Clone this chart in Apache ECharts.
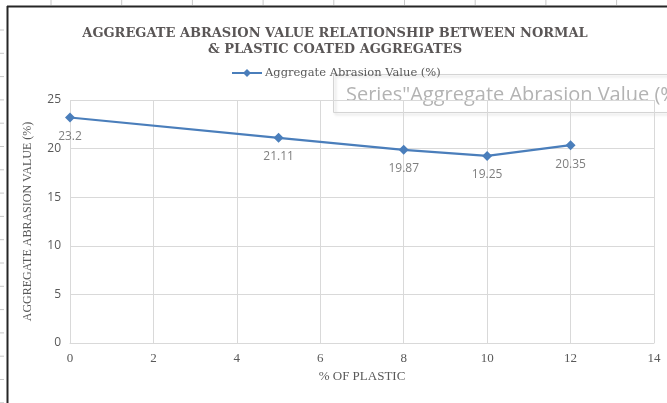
<!DOCTYPE html>
<html>
<head>
<meta charset="utf-8">
<script src="https://cdn.jsdelivr.net/npm/echarts@6/dist/echarts.min.js"></script>
<style>
  html, body { margin: 0; padding: 0; background: #fff; }
  #chart { width: 667px; height: 403px; }
</style>
</head>
<body>
<div id="chart"></div>
<script>
// data
const plasticPct = [0, 5, 8, 10, 12]
const abrasionValue = [23.2, 21.11, 19.87, 19.25, 20.35]
const xTicks = [0, 2, 4, 6, 8, 10, 12, 14]
const yTicks = [0, 5, 10, 15, 20, 25]

const seriesName = 'Aggregate Abrasion Value (%)'
const serif = '"Liberation Serif", "DejaVu Serif", serif'
const wideSerif = '"DejaVu Serif", serif'
const sans = '"Open Sans", "Noto Sans", sans-serif'

const chart = echarts.init(document.getElementById('chart'))

// spreadsheet cell ticks around the frame (decoration only)
const sheetTicks = []
for (let x = 51; x < 667; x += 70.7) {
  sheetTicks.push({ type: 'line', shape: { x1: x, y1: 0, x2: x, y2: 5 }, style: { stroke: '#c8c8c8', lineWidth: 1 } })
}
for (let y = 30; y < 403; y += 23.3) {
  sheetTicks.push({ type: 'line', shape: { x1: 0, y1: y, x2: 4, y2: y }, style: { stroke: '#c8c8c8', lineWidth: 1 } })
}

const option = {
  animation: false,
  title: {
    text: 'AGGREGATE ABRASION VALUE RELATIONSHIP BETWEEN NORMAL\n& PLASTIC COATED AGGREGATES',
    left: 330,
    textAlign: 'center',
    top: 21,
    textStyle: {
      fontFamily: wideSerif,
      fontWeight: 'bold',
      fontSize: 13,
      color: '#5a5656',
      lineHeight: 16
    }
  },
  legend: {
    top: 62,
    left: 226,
    itemWidth: 30,
    itemHeight: 10,
    itemGap: 4,
    textStyle: { fontFamily: wideSerif, fontSize: 11.5, color: '#595959', padding: [0, 0, 0, -2] },
    data: [seriesName]
  },
  grid: { left: 70, right: 13, top: 100, bottom: 60 },
  xAxis: {
    type: 'value',
    min: 0,
    max: 14,
    interval: 2,
    name: '% OF PLASTIC',
    nameLocation: 'middle',
    nameGap: 25,
    nameTextStyle: { fontFamily: serif, fontSize: 13, color: '#595959' },
    axisLine: { show: true, lineStyle: { color: '#d9d9d9' } },
    axisTick: { show: false },
    axisLabel: {
      fontFamily: serif, fontSize: 13, color: '#595959', margin: 9,
      formatter: v => xTicks.includes(v) ? String(v) : ''
    },
    splitLine: { show: true, lineStyle: { color: '#d9d9d9', width: 1 } }
  },
  yAxis: {
    type: 'value',
    min: 0,
    max: 25,
    interval: 5,
    name: 'AGGREGATE ABRASION VALUE (%)',
    nameLocation: 'middle',
    nameGap: 36,
    nameTextStyle: { fontFamily: serif, fontSize: 12, color: '#595959' },
    axisLine: { show: false },
    axisTick: { show: false },
    axisLabel: {
      fontFamily: sans, fontSize: 12, color: '#595959', margin: 9,
      formatter: v => yTicks.includes(v) ? String(v) : ''
    },
    splitLine: { show: true, lineStyle: { color: '#d9d9d9', width: 1 } }
  },
  series: [
    {
      name: seriesName,
      type: 'line',
      data: plasticPct.map((x, i) => [x, abrasionValue[i]]),
      symbol: 'diamond',
      symbolSize: 10,
      color: '#4a7ebb',
      lineStyle: { color: '#4a7ebb', width: 2.2 },
      itemStyle: { color: '#4a7ebb' },
      label: {
        show: true,
        position: 'bottom',
        distance: 8,
        fontFamily: sans,
        fontSize: 12,
        color: '#7f7f7f',
        formatter: p => String(p.value[1])
      },
      z: 3
    }
  ],
  graphic: [
    ...sheetTicks,
    // chart frame
    { type: 'line', shape: { x1: 7.5, y1: 6, x2: 7.5, y2: 403 }, style: { stroke: '#262626', lineWidth: 2 }, z: 10 },
    { type: 'line', shape: { x1: 7, y1: 6.5, x2: 667, y2: 6.5 }, style: { stroke: '#262626', lineWidth: 2 }, z: 10 },
    // hover hint box from the spreadsheet screenshot (see-through)
    {
      type: 'group',
      z: 20,
      children: [
        {
          type: 'rect',
          shape: { x: 333.5, y: 74.5, width: 340, height: 38 },
          style: {
            fill: 'rgba(255,255,255,0)', stroke: '#d4d4d4', lineWidth: 1,
            shadowBlur: 3, shadowColor: 'rgba(0,0,0,0.18)', shadowOffsetX: 2, shadowOffsetY: 2
          }
        },
        {
          type: 'text',
          style: {
            x: 346, y: 95, text: 'Series"Aggregate Abrasion Value (%)',
            verticalAlign: 'middle',
            font: '20px ' + sans,
            fill: '#b3b3b3'
          }
        }
      ]
    }
  ]
}

chart.setOption(option)
</script>
</body>
</html>
